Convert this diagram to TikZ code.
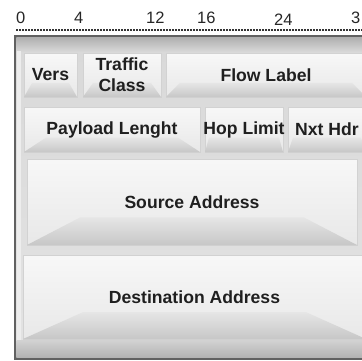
\documentclass[tikz,border=0pt]{standalone}
\usepackage{fontspec}
\setmainfont{Liberation Sans}
\begin{document}
\begin{tikzpicture}[x=1pt,y=-1pt,
  field/.style={top color=gray!6, bottom color=gray!18, draw=gray!35, line width=0.6pt},
  bevel/.style={top color=gray!20, bottom color=gray!44},
  fieldtext/.style={font=\bfseries\fontsize{17.6}{21}\selectfont, align=center, inner sep=0pt, text=black!88},
  bitnum/.style={font=\fontsize{16.5}{16.5}\selectfont, anchor=base west, inner sep=0pt, text=black!85}
  ]
  \useasboundingbox (0,0) rectangle (362,360);
  \clip (0,0) rectangle (362,360);

  % bit numbers and dotted ruler
  \node[bitnum] (b0) at (16,23.5) {0};
  \node[bitnum] (b4) at (74,23.5) {4};
  \node[bitnum] (b12) at (146,23.5) {12};
  \node[bitnum] (b16) at (197,23.5) {16};
  \node[bitnum] (b24) at (274,25.5) {24};
  \node[bitnum] (b32) at (351,23.5) {3};
  \draw[line width=2.5pt, black!80, dash pattern=on 1.7pt off 1.3pt] (16,30) -- (362,30);

  % frame
  \fill[black!62] (14,35) rectangle (370,360);
  \shade[top color=gray!30, bottom color=gray!22] (16.5,37.5) rectangle (370,357.5);
  \shade[top color=gray!62, bottom color=gray!32] (16.5,37.5) rectangle (370,51);
  \shade[top color=gray!35, bottom color=gray!60] (16.5,340) rectangle (370,357.5);
  \fill[gray!14] (16.5,51) rectangle (21,340);

  \foreach \nm/\xa/\ya/\xb/\yb/\bv/\txt in {
      vers/24/53/77/97/8/Vers,
      traffic/83/53/161/97/10/{Traffic\\Class},
      flow/166/53/366/97/14/Flow Label,
      payload/24/107/200/152/22/Payload Lenght,
      hop/205/107/283/152/4/Hop Limit,
      nxt/288/107/366/152/5/Nxt Hdr,
      src/27/159/357/245/53/Source Address,
      dst/23/255/366/339/60/Destination Address} {
    \shade[field] (\xa,\ya) rectangle (\xb,\yb);
    \shade[bevel] (\xa,\yb) -- ({\xa+\bv},{\yb-0.32*(\yb-\ya)}) -- ({\xb-\bv},{\yb-0.32*(\yb-\ya)}) -- (\xb,\yb) -- cycle;
    \node[fieldtext] (\nm) at ({(\xa+\xb)/2},{(\ya+\yb)/2}) {\txt};
  }
\end{tikzpicture}
\end{document}
